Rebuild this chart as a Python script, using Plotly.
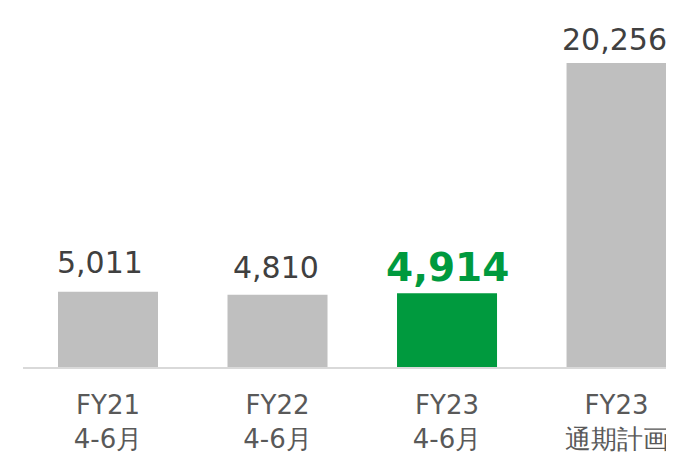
import plotly.graph_objects as go

# datos del gráfico
categorias = ["FY21<br>4-6月", "FY22<br>4-6月", "FY23<br>4-6月", "FY23<br>通期計画"]
valores = [5011, 4810, 4914, 20256]
etiquetas = ["5,011", "4,810", "4,914", "20,256"]
colores = ["#bfbfbf", "#bfbfbf", "#009a3e", "#bfbfbf"]

# desplazamientos de las etiquetas (px), como en el original
dy = [10, 8, 1, 4]
dx = [-8, -2, 0, -2]

fig = go.Figure()
fig.add_trace(go.Bar(x=categorias, y=valores, marker=dict(color=colores, line=dict(width=0)),
                     hoverinfo="skip"))

for i, (c, v, t) in enumerate(zip(categorias, valores, etiquetas)):
    if i == 2:
        fuente = dict(family="DejaVu Sans", size=39, color="#009a3e", weight="bold")
    else:
        fuente = dict(family="DejaVu Sans", size=30, color="#404040")
    fig.add_annotation(x=c, y=v, text=t, showarrow=False, yanchor="bottom",
                       yshift=dy[i], xshift=dx[i], font=fuente)

# el body del html tiene 8px de margen, se compensa aquí
fig.update_layout(
    width=666, height=452,
    margin=dict(l=15, r=0, t=0, b=93),
    paper_bgcolor="white", plot_bgcolor="white",
    bargap=0.41, showlegend=False,
    xaxis=dict(range=[-0.5015, 3.339], showline=True, linecolor="#d9d9d9", linewidth=2,
               ticks="", ticklabelstandoff=14,
               tickfont=dict(family="DejaVu Sans", size=26, color="#595959"),
               showgrid=False, fixedrange=True),
    yaxis=dict(range=[0, 23921], visible=False, showgrid=False, fixedrange=True),
)

fig.write_html("out.html")
